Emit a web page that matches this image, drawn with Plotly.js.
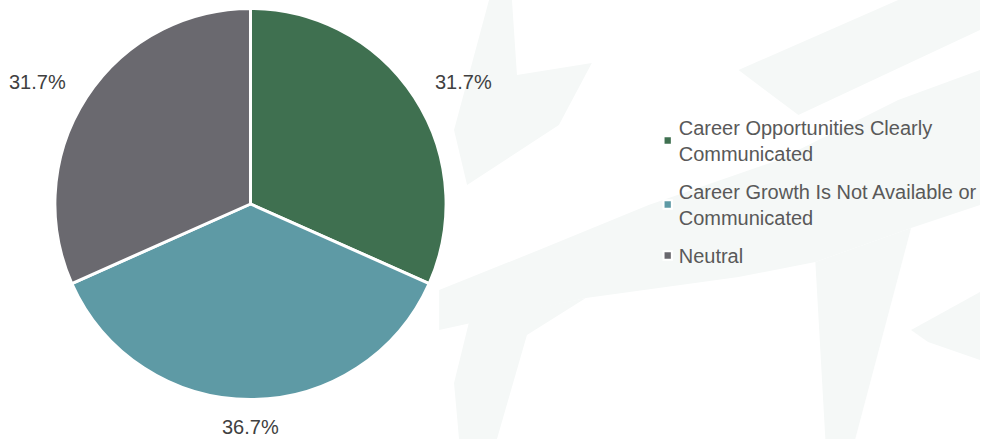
<!DOCTYPE html>
<html>
<head>
<meta charset="utf-8">
<script src="https://cdn.plot.ly/plotly-3.0.1.min.js"></script>
<style>
  html, body { margin: 0; padding: 0; background: #ffffff; }
  #chart { width: 982px; height: 439px; }
</style>
</head>
<body>
<div id="chart"></div>
<script>
// Survey responses on career growth communication
const categories = [
  'Career Opportunities Clearly<br>Communicated',
  'Career Growth Is Not Available or<br>Communicated',
  'Neutral'
];
const shares = [31.7, 36.7, 31.7];
const sliceColors = ['#3f7050', '#5e9aa5', '#6a696f'];

const W = 982, H = 439;
const FONT = 'Liberation Sans, Arial, sans-serif';
const FONT_SIZE = 20;

// Pie placement in pixels
const pie = { cx: 251, cy: 204, r: 196 };

// Faint brush-stroke watermark behind the chart (pixel outlines)
const watermark = [
  [[440,330],[587,298],[740,277],[817,262],[913,228],[982,205],[982,70],[900,100],[780,160],[650,205],[540,250],[440,290]],
  [[817,262],[913,228],[857,439],[827,439]],
  [[498,439],[528,335],[587,298],[470,322],[455,383],[460,439]],
  [[913,330],[982,292],[982,360],[930,342]],
  [[490,0],[513,0],[518,75],[593,63],[560,125],[468,185],[455,130]],
  [[740,70],[900,0],[982,0],[982,30],[800,115]]
];
function toPaperPath(pts) {
  return 'M ' + pts.map(p => (p[0] / W).toFixed(4) + ',' + (1 - p[1] / H).toFixed(4)).join(' L ') + ' Z';
}
const shapes = watermark.map(pts => ({
  type: 'path', xref: 'paper', yref: 'paper', layer: 'below',
  path: toPaperPath(pts),
  fillcolor: '#f5f8f7', line: { width: 0 }
}));

// Value labels just outside each slice, placed from the slice mid-angles
const total = shares.reduce((a, b) => a + b, 0);
const SIDE_PAD = 18, BOTTOM_PAD = 14;
let cum = 0;
const annotations = shares.map(v => {
  const mid = (cum + v / 2) / total * 2 * Math.PI;
  cum += v;
  const s = Math.sin(mid), c = Math.cos(mid);
  const side = Math.abs(s) > 0.3;
  return {
    xref: 'paper', yref: 'paper',
    x: (pie.cx + pie.r * s) / W,
    y: 1 - (pie.cy - pie.r * c) / H,
    xanchor: !side ? 'center' : (s > 0 ? 'left' : 'right'),
    yanchor: c > 0 ? 'bottom' : 'top',
    xshift: side ? Math.sign(s) * SIDE_PAD : 0,
    yshift: side ? Math.sign(c) * 2 : Math.sign(c) * BOTTOM_PAD,
    showarrow: false,
    text: v.toFixed(1) + '%',
    font: { family: FONT, size: FONT_SIZE, color: '#404040' }
  };
});

const trace = {
  type: 'pie',
  labels: categories,
  values: shares,
  sort: false,
  direction: 'clockwise',
  rotation: 0,
  marker: { colors: sliceColors, line: { color: '#ffffff', width: 3 } },
  textinfo: 'none',
  hoverinfo: 'label+value',
  domain: {
    x: [(pie.cx - pie.r) / W, (pie.cx + pie.r) / W],
    y: [1 - (pie.cy + pie.r) / H, 1 - (pie.cy - pie.r) / H]
  }
};

const layout = {
  width: W, height: H,
  margin: { l: 0, r: 0, t: 0, b: 0 },
  paper_bgcolor: 'rgba(0,0,0,0)',
  plot_bgcolor: 'rgba(0,0,0,0)',
  font: { family: FONT, color: '#595959' },
  showlegend: true,
  legend: {
    x: 640 / W, xanchor: 'left',
    y: 1 - 108 / H, yanchor: 'top',
    bgcolor: 'rgba(0,0,0,0)',
    font: { family: FONT, size: FONT_SIZE, color: '#595959' },
    traceorder: 'normal'
  },
  annotations: annotations,
  shapes: shapes
};

Plotly.newPlot('chart', [trace], layout, { displayModeBar: false, staticPlot: true }).then(gd => {
  // Extra breathing room between legend entries and smaller swatches
  const ENTRY_GAP = 9;
  const box = gd.querySelector('.legend .scrollbox');
  if (box) box.removeAttribute('clip-path');
  gd.querySelectorAll('.legend .traces').forEach((g, i) => {
    const t = g.getAttribute('transform') || '';
    const m = /translate\(\s*([-\d.]+)[ ,]+([-\d.]+)\s*\)/.exec(t);
    if (m) {
      g.setAttribute('transform', 'translate(' + m[1] + ',' + (parseFloat(m[2]) + i * ENTRY_GAP) + ')');
    }
  });
  gd.querySelectorAll('.legend .legendpoints path').forEach(p => {
    const t = p.getAttribute('transform') || '';
    p.setAttribute('transform', t + ' translate(9,0) scale(0.7)');
  });
});
</script>
</body>
</html>
